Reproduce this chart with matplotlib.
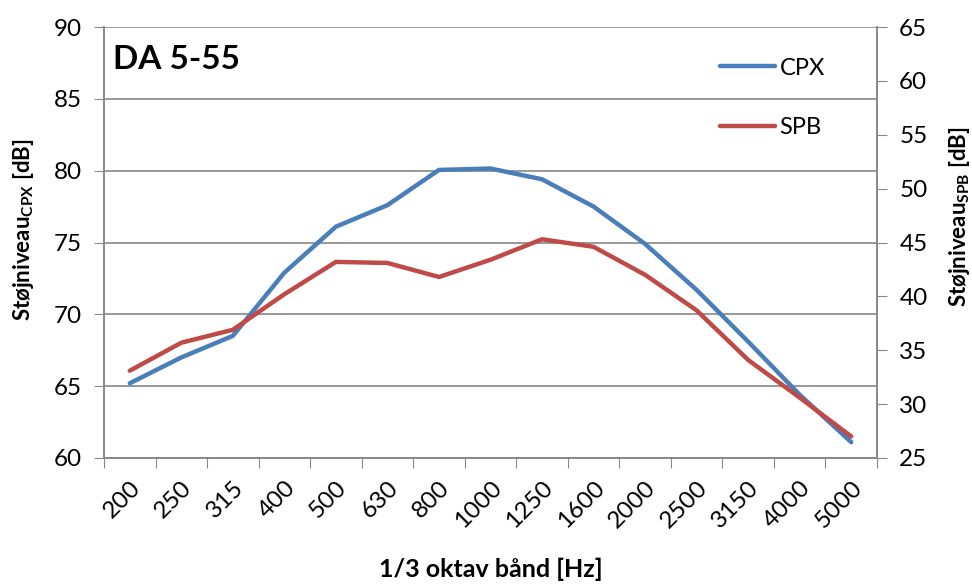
import matplotlib
matplotlib.use('Agg')
import matplotlib.pyplot as plt

plt.rcParams['font.family'] = ['Lato', 'DejaVu Sans']
plt.rcParams['mathtext.fontset'] = 'custom'
plt.rcParams['mathtext.rm'] = 'Lato'
plt.rcParams['mathtext.bf'] = 'Lato:bold'

bands = ['200', '250', '315', '400', '500', '630', '800', '1000', '1250',
         '1600', '2000', '2500', '3150', '4000', '5000']
cpx = [65.2, 67.0, 68.5, 72.9, 76.1, 77.6, 80.05, 80.15, 79.4, 77.5, 74.9,
       71.7, 68.1, 64.4, 61.1]
spb = [33.1, 35.7, 36.9, 40.2, 43.2, 43.1, 41.8, 43.4, 45.3, 44.6, 42.0,
       38.7, 34.1, 30.6, 27.0]

blue = '#4A7EBB'
red = '#BE4B48'
grey = '#888888'

fig = plt.figure(figsize=(9.72, 5.84), dpi=100)
ax = fig.add_axes([104/972, 1 - 458/584, 773/972, 431/584])
ax2 = ax.twinx()

x = list(range(len(bands)))
l1, = ax.plot(x, cpx, color=blue, lw=3.2, solid_capstyle='round', label='CPX')
l2, = ax2.plot(x, spb, color=red, lw=3.2, solid_capstyle='round', label='SPB')

ax.set_xlim(-0.5, len(bands) - 0.5)
ax.set_ylim(60, 90)
ax2.set_ylim(25, 65)
ax.set_yticks(range(60, 91, 5))
ax2.set_yticks(range(25, 66, 5))

ax.set_xticks([i - 0.5 for i in range(len(bands) + 1)])
ax.set_xticklabels([])
ax.set_xticks(x, minor=True)
ax.set_xticklabels(bands, minor=True, rotation=45, ha='right',
                   rotation_mode='anchor', fontsize=17.5)
ax.tick_params(axis='x', which='minor', length=0, pad=14)
ax.tick_params(axis='x', which='major', length=7, color=grey)

ax.grid(axis='y', color=grey, lw=1.2)
ax.set_axisbelow(True)
for a in (ax, ax2):
    a.spines['top'].set_visible(False)
    for s in ('left', 'right', 'bottom'):
        a.spines[s].set_color(grey)
        a.spines[s].set_linewidth(1.2)
ax.tick_params(axis='y', labelsize=17.5, length=7, color=grey, pad=9)
ax2.tick_params(axis='y', labelsize=17.5, length=7, color=grey, pad=9)

ax.set_ylabel(r'Støjniveau$_{\mathregular{CPX}}$ [dB]', fontsize=16,
              fontweight='bold')
ax2.set_ylabel(r'Støjniveau$_{\mathregular{SPB}}$ [dB]', fontsize=16,
               fontweight='bold')
ax.yaxis.set_label_coords(-0.088, 0.53)
ax2.yaxis.set_label_coords(1.091, 0.56)
ax.set_xlabel('1/3 oktav bånd [Hz]', fontsize=18, fontweight='bold', labelpad=18)

ax.text(0.012, 0.925, 'DA 5-55', transform=ax.transAxes, fontsize=24,
        fontweight='bold', va='center', ha='left')

ax2.legend(handles=[l1, l2], loc='upper left', bbox_to_anchor=(0.77, 0.978),
           frameon=False, fontsize=17, handlelength=2.3, labelspacing=1.62,
           handletextpad=0.2)

fig.savefig('out.png', dpi=100)
